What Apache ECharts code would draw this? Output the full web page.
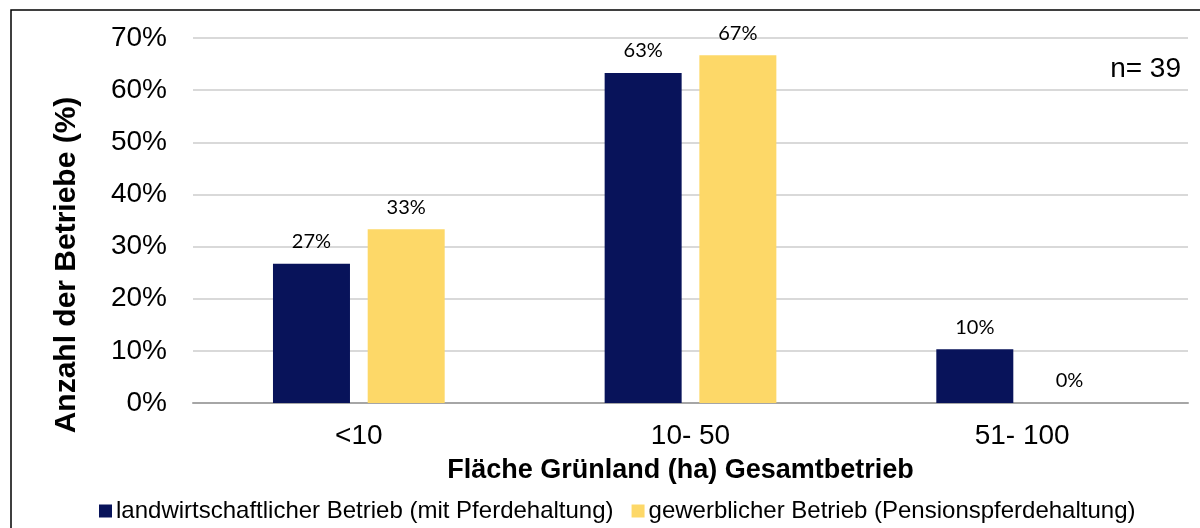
<!DOCTYPE html>
<html lang="de">
<head>
    <meta charset="UTF-8">
    <script src="https://cdn.jsdelivr.net/npm/echarts@6/dist/echarts.min.js"></script>
    <title>Grünland</title>
    <style>
        html, body { margin: 0; padding: 0; background: #fff; }
    </style>
</head>
<body>
<div id="main" style="width: 1200px;height:528px;"></div>
<script type="text/javascript">
    // Daten
    var kategorien = ['<10', '10- 50', '51- 100'];
    var landwirtschaftlich = [26.7, 63.3, 10.3];
    var gewerblich = [33.3, 66.7, 0];
    var yTicks = [0, 10, 20, 30, 40, 50, 60, 70];

    var myChart = echarts.init(document.getElementById('main'));

    var labelStyle = {
        show: true,
        position: 'top',
        distance: 12,
        color: '#000',
        fontFamily: 'Lato',
        fontSize: 20,
        formatter: function (p) { return Math.round(p.value) + '%'; }
    };

    var option = {
        animation: false,
        textStyle: { fontFamily: 'Liberation Sans' },
        graphic: [
            {
                type: 'rect',
                shape: { x: 11, y: 10, width: 1200, height: 530 },
                style: { fill: 'none', stroke: '#000', lineWidth: 1.5 }
            },
            {
                type: 'text',
                right: 19,
                top: 55,
                style: { text: 'n= 39', fontSize: 28, fontFamily: 'Liberation Sans', fill: '#000' }
            },
            {
                // Achsentitel der y-Achse
                type: 'text',
                x: 67,
                y: 265,
                rotation: Math.PI / 2,
                style: {
                    text: 'Anzahl der Betriebe (%)',
                    fontSize: 30,
                    fontWeight: 'bold',
                    fontFamily: 'Liberation Sans',
                    fill: '#000',
                    align: 'center',
                    verticalAlign: 'middle'
                }
            }
        ],
        grid: { left: 193, right: 12, top: 38, bottom: 125 },
        legend: {
            bottom: 5,
            left: 99,
            padding: 0,
            itemWidth: 13,
            itemHeight: 13,
            itemGap: 18,
            icon: 'rect',
            textStyle: { fontSize: 24, color: '#000', fontFamily: 'Liberation Sans', padding: [0, 0, 0, -1] },
            data: ['landwirtschaftlicher Betrieb (mit Pferdehaltung)', 'gewerblicher Betrieb (Pensionspferdehaltung)']
        },
        xAxis: {
            type: 'category',
            data: kategorien,
            name: 'Fläche Grünland (ha) Gesamtbetrieb',
            nameLocation: 'middle',
            nameGap: 54,
            nameTextStyle: { fontSize: 27, fontWeight: 'bold', color: '#000', padding: [0, 20, 0, 0] },
            axisLine: { lineStyle: { color: '#a6a6a6', width: 2 } },
            axisTick: { show: false },
            axisLabel: { fontSize: 28, color: '#000', margin: 19 }
        },
        yAxis: {
            type: 'value',
            min: yTicks[0],
            max: yTicks[yTicks.length - 1],
            interval: 10,
            axisLine: { show: false },
            axisTick: { show: false },
            axisLabel: { fontSize: 28, color: '#000', margin: 26, formatter: '{value}%' },
            splitLine: { lineStyle: { color: '#d9d9d9', width: 2 } }
        },
        series: [
            {
                name: 'landwirtschaftlicher Betrieb (mit Pferdehaltung)',
                type: 'bar',
                data: landwirtschaftlich,
                barWidth: 77,
                barGap: '23%',
                itemStyle: { color: '#08135a' },
                label: labelStyle
            },
            {
                name: 'gewerblicher Betrieb (Pensionspferdehaltung)',
                type: 'bar',
                data: gewerblich,
                barWidth: 77,
                itemStyle: { color: '#fdd868' },
                label: labelStyle
            }
        ]
    };

    myChart.setOption(option);
</script>
</body>
</html>
